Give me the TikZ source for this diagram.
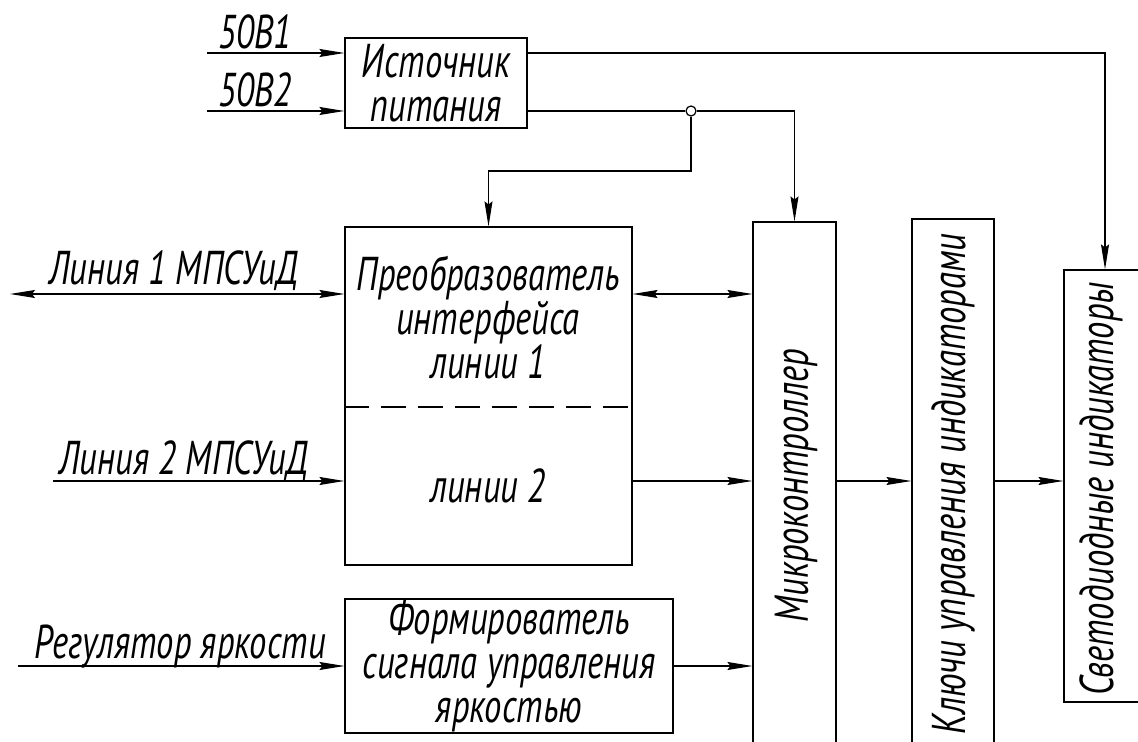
\documentclass[tikz,border=0pt]{standalone}
\usepackage{fontspec}
\setmainfont{PT Sans}[FakeStretch=0.73]
\usetikzlibrary{arrows.meta}

\begin{document}
\begin{tikzpicture}[x=0.02cm, y=-0.02cm, line width=0.7pt,
  >={Stealth[length=5mm, width=1.6mm, inset=0.6mm]},
  blk/.style={draw, inner sep=0pt, align=center, font=\itshape\fontsize{27}{25}\selectfont},
  txt/.style={inner sep=0pt, align=center, font=\itshape\fontsize{27}{25}\selectfont},
  lbl/.style={anchor=base, inner sep=0pt, font=\itshape\fontsize{27}{25}\selectfont},
  junc/.style={draw, circle, minimum size=0.2cm, inner sep=0pt}]

  \useasboundingbox (0,0) rectangle (1138,742);
  \clip (0,0) rectangle (1138,742);

  %% ===================== BLOCKS =====================
  \node[blk, minimum width=3.64cm, minimum height=1.8cm] (psu) at (436,83) {Источник\\питания};

  % interface converter: one box, two halves split by a dashed line
  \node[blk, minimum width=5.74cm, minimum height=6.76cm] (conv) at (488.5,396) {};
  \node[txt] (convA) at (488,318) {Преобразователь\\интерфейса\\линии 1};
  \node[txt] (convB) at (488,486) {линии 2};
  \coordinate (dsh) at (0,407);
  \draw[dash pattern=on 0.5cm off 0.24cm] (conv.west |- dsh) -- (conv.east |- dsh);

  \node[blk, minimum width=6.56cm, minimum height=2.68cm] (form) at (509,666)
    {Формирователь\\сигнала управления\\яркостью};

  % tall blocks run past the lower edge
  \node[blk, minimum width=1.66cm, minimum height=10.8cm] (mcu) at (794.5,492) {};
  \node[txt, rotate=90] (mcuT) at (796,486) {Микроконтроллер};
  \node[blk, minimum width=1.64cm, minimum height=10.86cm] (keys) at (953,490.5) {};
  \node[txt, rotate=90] (keysT) at (953,484) {Ключи управления индикаторами};
  \node[blk, minimum width=1.64cm, minimum height=8.64cm] (led) at (1105,486) {};
  \node[txt, rotate=90] (ledT) at (1101,489) {Светодиодные индикаторы};

  %% ===================== INPUTS =====================
  \coordinate (in1) at (207,53);
  \coordinate (in2) at (207,111);
  \draw[->] (in1) -- (in1 -| psu.west);
  \draw[->] (in2) -- (in2 -| psu.west);
  \node[lbl] (t50a) at (255,49) {50В1};
  \node[lbl] (t50b) at (255,107) {50В2};

  \coordinate (ln1) at (10,294);
  \coordinate (ln2) at (53,481);
  \coordinate (br) at (18,666);
  \draw[<->] (ln1) -- (ln1 -| conv.west);
  \draw[->] (ln2) -- (ln2 -| conv.west);
  \draw[->] (br) -- (br -| form.west);
  \node[lbl] (tln1) at (174,285) {Линия 1 МПСУиД};
  \node[lbl] (tln2) at (184,475) {Линия 2 МПСУиД};
  \node[lbl] (tbr) at (180,658) {Регулятор яркости};

  %% ===================== POWER =====================
  \draw[->] (psu.east |- in1) -| (led.north);
  \node[junc] (jn) at (691,111) {};
  \coordinate (jt) at (691,171);
  \draw (psu.east |- in2) -- (jn.west);
  \draw[->] (jn.east) -| (mcu.north);
  \draw[->] (jn.south) -- (jt) -| (conv.north);

  %% ===================== SIGNALS =====================
  \draw[<->] (conv.east |- ln1) -- (mcu.west |- ln1);
  \draw[->] (conv.east |- ln2) -- (mcu.west |- ln2);
  \draw[->] (form.east |- br) -- (mcu.west |- br);
  \draw[->] (mcu.east |- ln2) -- (keys.west |- ln2);
  \draw[->] (keys.east |- ln2) -- (led.west |- ln2);

\end{tikzpicture}
\end{document}
